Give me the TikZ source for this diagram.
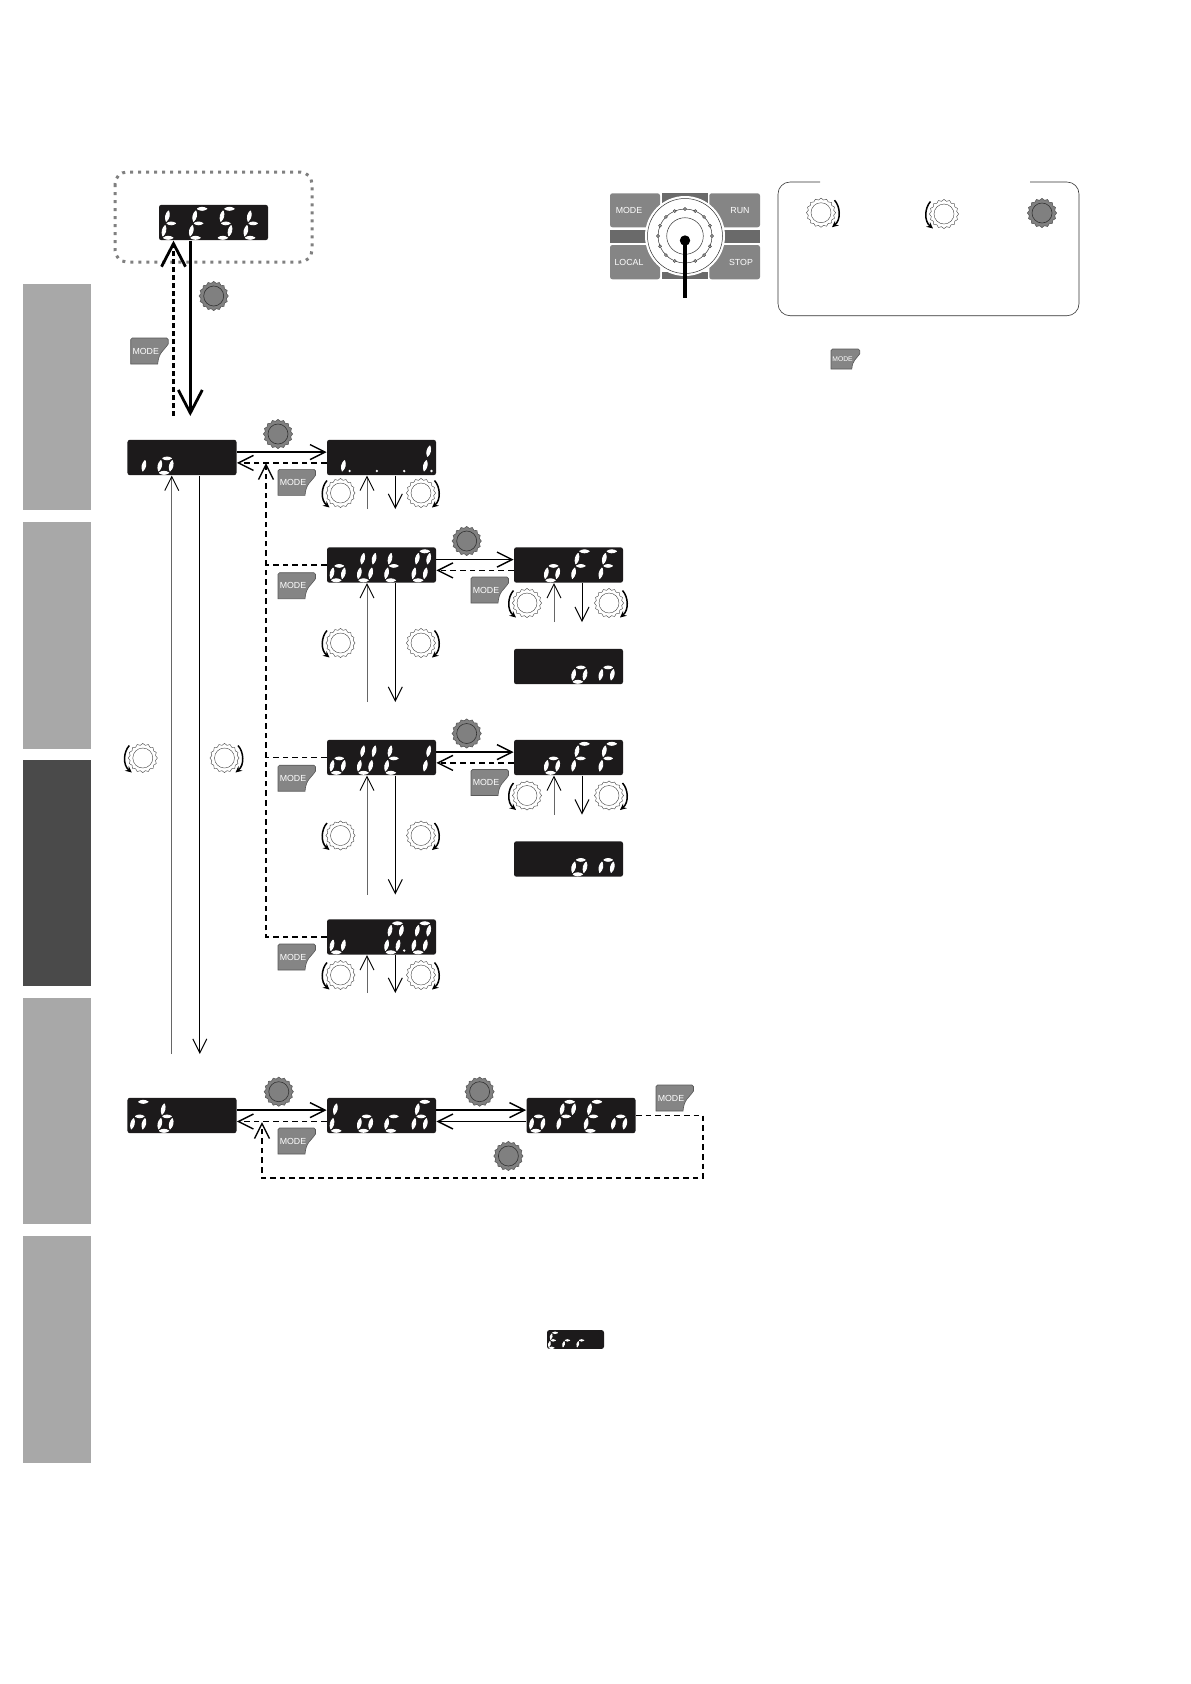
\documentclass[tikz,border=0pt]{standalone}
\usepackage{fontspec}
\setmainfont{Liberation Sans}
\usetikzlibrary{arrows.meta, positioning, shapes.geometric}
\definecolor{keygray}{HTML}{858585}
\definecolor{banddark}{HTML}{6A6A6A}
\definecolor{tabgray}{HTML}{A8A8A8}
\definecolor{tabdark}{HTML}{4A4A4A}
\definecolor{lcdblack}{HTML}{1C1A1B}

\newcommand{\seglens}[4]{\filldraw[white, line width=0.45bp, line join=round] (#1,#2) to[bend left=33] (#3,#4) to[bend left=33] (#1,#2);}
\newcommand{\sega}{\seglens{8}{-29.2}{17.6}{-29.2}}
\newcommand{\segb}{\seglens{18}{-27.2}{15.6}{-16.6}}
\newcommand{\segc}{\seglens{14.6}{-12.6}{12.2}{-2}}
\newcommand{\segd}{\seglens{1.4}{-0.2}{11}{-0.2}}
\newcommand{\sege}{\seglens{3.2}{-12.6}{0.8}{-2}}
\newcommand{\segf}{\seglens{6.6}{-27.2}{4.2}{-16.6}}
\newcommand{\segg}{\seglens{4.8}{-14.6}{13.6}{-14.6}}
\newcommand{\slot}[2]{\begin{scope}[shift={({3.4+27.3*(#1-1)},-2.6)}]\foreach \s in {#2}{\csname seg\s\endcsname}\end{scope}}
\newcommand{\slotdot}[1]{\fill[white] ({23+27.3*(#1-1)},-4.6) circle (1.3);}

\begin{document}
\begin{tikzpicture}[
  x=0.5bp, y=-0.5bp,
  lcd/.style={fill=lcdblack, rounded corners=1.2bp, minimum width=54.5bp, minimum height=17.7bp, inner sep=0pt},
  keytext/.style={text=white, font=\fontsize{4.4bp}{5bp}\selectfont, inner sep=0pt},
  gearbody/.style={star, star points=16, star point ratio=1.13, minimum size=14.6bp, inner sep=0pt},
  turn/.style={line width=0.75bp, -{Stealth[length=3.2bp, width=3bp]}},
  solidline/.style={line width=0.7bp, -{Straight Barb[length=7.5bp, width=7.5bp]}},
  dashline/.style={line width=0.7bp, dash pattern=on 2.8bp off 2bp, -{Straight Barb[length=7.5bp, width=7.5bp]}},
  upline/.style={line width=0.45bp, black!60, -{Straight Barb[length=7bp, width=7bp, color=black]}},
  downline/.style={line width=0.5bp, -{Straight Barb[length=7bp, width=7bp]}},
  heavyline/.style={line width=1.4bp, -{Straight Barb[length=11.5bp, width=12bp]}},
  modekey/.pic={
    \draw[fill=keygray, draw=black!65, line width=0.3bp, rounded corners=0.8bp] (0,26) -- (0,0) -- (37.5,0) [sharp corners] -- (37.5,6) .. controls (33,13) and (28,14) .. (27,26) -- cycle;
    \node[keytext] (-text) at (15,13) {MODE};
  },
  geardark/.pic={
    \node[gearbody, fill=black!50, draw=black!65, line width=0.3bp] (-body) {};
    \draw[black!80, line width=0.3bp] (0,0) circle (10);
  },
  gearlight/.pic={
    \node[gearbody, fill=white, draw=black!75, line width=0.2bp] (-body) {};
    \draw[black!75, line width=0.2bp] (0,0) circle (10);
  },
  gearccw/.pic={
    \pic (-g) {gearlight};
    \draw[turn] (-13.5,-12.5) .. controls (-19.5,-6) and (-20,7) .. (-11,14.5);
  },
  gearcw/.pic={
    \pic (-g) {gearlight};
    \draw[turn] (13.5,-12.5) .. controls (19.5,-6) and (20,7) .. (11,14.5);
  }
]
\useasboundingbox (0,0) rectangle (1191,1684);

\fill[tabgray] (23,283.5) rectangle (91,510);
\fill[tabgray] (23,522) rectangle (91,748.5);
\fill[tabdark] (23,760) rectangle (91,986);
\fill[tabgray] (23,998) rectangle (91,1224);
\fill[tabgray] (23,1236) rectangle (91,1463);

\draw[black!50, line width=1.5bp, dash pattern=on 1.5bp off 2.5bp, rounded corners=6bp] (115,172) rectangle (312,262);

\node[lcd] (testdisp) at (213.5,222.5) {};
\node[lcd] (iodisp) at (182,457.5) {};
\node[lcd] (onedisp) at (381.5,457.5) {};
\node[lcd] (outzero) at (381.5,565) {};
\node[lcd] (offzero) at (568.5,565) {};
\node[lcd] (onzero) at (568.5,666.5) {};
\node[lcd] (outone) at (381.5,757.5) {};
\node[lcd] (offone) at (568.5,757.5) {};
\node[lcd] (onone) at (568.5,859) {};
\node[lcd] (ubdisp) at (381.5,937) {};
\node[lcd] (mbdisp) at (182,1115.5) {};
\node[lcd] (lockdisp) at (381.5,1115.5) {};
\node[lcd] (opendisp) at (581,1115.5) {};
\node[lcd, minimum width=28.5bp, minimum height=9.4bp] (errdisp) at (575.5,1339.5) {};

\begin{scope}[shift={(testdisp.south west)}]
  \slot{1}{f,g,e,d} \slot{2}{a,f,g,e,d} \slot{3}{a,f,g,c,d} \slot{4}{f,g,e,d}
\end{scope}
\begin{scope}[shift={(iodisp.south west)}]
  \slot{1}{c} \slot{2}{g,c,d,e}
\end{scope}
\begin{scope}[shift={(onedisp.south west)}]
  \slot{1}{c} \slot{4}{b,c} \slotdot{1} \slotdot{2} \slotdot{3} \slotdot{4}
\end{scope}
\begin{scope}[shift={(outzero.south west)}]
  \slot{1}{g,c,d,e} \slot{2}{b,c,d,e,f} \slot{3}{f,g,e,d} \slot{4}{a,b,c,d,e,f}
\end{scope}
\begin{scope}[shift={(offzero.south west)}]
  \slot{2}{g,c,d,e} \slot{3}{a,f,g,e} \slot{4}{a,f,g,e}
\end{scope}
\begin{scope}[shift={(onzero.south west)}]
  \slot{3}{g,c,d,e} \slot{4}{g,e,c}
\end{scope}
\begin{scope}[shift={(outone.south west)}]
  \slot{1}{g,c,d,e} \slot{2}{b,c,d,e,f} \slot{3}{f,g,e,d} \slot{4}{b,c}
\end{scope}
\begin{scope}[shift={(offone.south west)}]
  \slot{2}{g,c,d,e} \slot{3}{a,f,g,e} \slot{4}{a,f,g,e}
\end{scope}
\begin{scope}[shift={(onone.south west)}]
  \slot{3}{g,c,d,e} \slot{4}{g,e,c}
\end{scope}
\begin{scope}[shift={(ubdisp.south west)}]
  \slot{1}{c,d,e} \slot{3}{a,b,c,d,e,f} \slot{4}{a,b,c,d,e,f} \slotdot{3}
\end{scope}
\begin{scope}[shift={(mbdisp.south west)}]
  \slot{1}{a,g,e,c} \slot{2}{f,g,c,d,e}
\end{scope}
\begin{scope}[shift={(lockdisp.south west)}]
  \slot{1}{f,e,d} \slot{2}{g,c,d,e} \slot{3}{g,e,d} \slot{4}{a,f,g,e,c}
\end{scope}
\begin{scope}[shift={(opendisp.south west)}]
  \slot{1}{g,c,d,e} \slot{2}{a,b,f,g,e} \slot{3}{a,f,g,e,d} \slot{4}{g,e,c}
\end{scope}
\begin{scope}[shift={(errdisp.south west)}, scale=0.52]
  \slot{1}{a,f,g,e,d} \slot{2}{g,e} \slot{3}{g,e}
\end{scope}

\coordinate (testup) at (173.5,416);
\coordinate (testdown) at (190.3,416);
\draw[heavyline, dash pattern=on 2.5bp off 1.5bp] (testup) -- (testup |- testdisp.south);
\draw[heavyline] (testdown |- testdisp.south) -- (testdown);

\coordinate (ioup) at (171.8,1054);
\coordinate (iodown) at (199.8,1054);
\draw[upline] (ioup) -- (ioup |- iodisp.south);
\draw[downline] (iodown |- iodisp.south) -- (iodown);

\draw[solidline] ([yshift=2.7bp]iodisp.east) -- ([yshift=2.7bp]onedisp.west);
\draw[dashline] ([yshift=-2.7bp]onedisp.west) -- ([yshift=-2.7bp]iodisp.east);

\coordinate (coltop) at (266,463);
\draw[dashline] (ubdisp.west) -| (coltop);
\draw[dashline, -] (outzero.west) -- (outzero.west -| coltop);
\draw[dashline, -] (outone.west) -- (outone.west -| coltop);

\coordinate (oneup) at (367,509);
\coordinate (onedown) at (395.3,509);
\draw[upline] (oneup) -- (oneup |- onedisp.south);
\draw[downline] (onedown |- onedisp.south) -- (onedown);

\coordinate (zeroup) at (367,702);
\coordinate (zerodown) at (395.3,702);
\draw[upline] (zeroup) -- (zeroup |- outzero.south);
\draw[downline] (zerodown |- outzero.south) -- (zerodown);

\draw[solidline] ([yshift=2.7bp]outzero.east) -- ([yshift=2.7bp]offzero.west);
\draw[dashline] ([yshift=-2.7bp]offzero.west) -- ([yshift=-2.7bp]outzero.east);

\coordinate (offzeroup) at (554,622);
\coordinate (offzerodown) at (582,622);
\draw[upline] (offzeroup) -- (offzeroup |- offzero.south);
\draw[downline] (offzerodown |- offzero.south) -- (offzerodown);

\coordinate (oneoutup) at (367,894.5);
\coordinate (oneoutdown) at (395.3,894.5);
\draw[upline] (oneoutup) -- (oneoutup |- outone.south);
\draw[downline] (oneoutdown |- outone.south) -- (oneoutdown);

\draw[solidline] ([yshift=2.7bp]outone.east) -- ([yshift=2.7bp]offone.west);
\draw[dashline] ([yshift=-2.7bp]offone.west) -- ([yshift=-2.7bp]outone.east);

\coordinate (offoneup) at (554,814.5);
\coordinate (offonedown) at (582,814.5);
\draw[upline] (offoneup) -- (offoneup |- offone.south);
\draw[downline] (offonedown |- offone.south) -- (offonedown);

\coordinate (ubup) at (367,993);
\coordinate (ubdown) at (395.3,993);
\draw[upline] (ubup) -- (ubup |- ubdisp.south);
\draw[downline] (ubdown |- ubdisp.south) -- (ubdown);

\draw[solidline] ([yshift=2.7bp]mbdisp.east) -- ([yshift=2.7bp]lockdisp.west);
\draw[dashline] ([yshift=-3bp]lockdisp.west) -- ([yshift=-3bp]mbdisp.east);
\draw[solidline] ([yshift=2.7bp]lockdisp.east) -- ([yshift=2.7bp]opendisp.west);
\draw[solidline] ([yshift=-3bp]opendisp.west) -- ([yshift=-3bp]lockdisp.east);

\coordinate (loopright) at (703,1178);
\coordinate (loopleft) at (262,1178);
\coordinate (looptip) at (262,1122);
\draw[dashline] (opendisp.east) -| (loopright) -- (loopleft) -- (looptip);

\pic (gtest) at (213.7,296) {geardark};
\pic (gio) at (278,434) {geardark};
\pic (gzero) at (466.7,541) {geardark};
\pic (gone) at (466.7,733.5) {geardark};
\pic (gmb) at (278.8,1091.7) {geardark};
\pic (glock) at (479.6,1091.7) {geardark};
\pic (gopen) at (508.4,1156) {geardark};
\pic (gkey) at (1042,213) {geardark};

\pic (gioa) at (142.8,758) {gearccw};
\pic (giob) at (224.5,758) {gearcw};
\pic (gonea) at (340.5,493) {gearccw};
\pic (goneb) at (421,493) {gearcw};
\pic (gzeroa) at (340.5,643) {gearccw};
\pic (gzerob) at (421,643) {gearcw};
\pic (goffa) at (527,603) {gearccw};
\pic (goffb) at (609,603) {gearcw};
\pic (gouta) at (340.5,835.5) {gearccw};
\pic (goutb) at (421,835.5) {gearcw};
\pic (goffc) at (527,795.5) {gearccw};
\pic (goffd) at (609,795.5) {gearcw};
\pic (guba) at (340.5,975) {gearccw};
\pic (gubb) at (421,975) {gearcw};
\pic (gkeya) at (821,212.7) {gearcw};
\pic (gkeyb) at (944,214) {gearccw};

\pic (mtest) at (130.7,338) {modekey};
\pic (mone) at (278,469.3) {modekey};
\pic (mzero) at (278,572.7) {modekey};
\pic (moff) at (471,577) {modekey};
\pic (mout) at (278,765.2) {modekey};
\pic (moffb) at (471,769.5) {modekey};
\pic (mub) at (278,944) {modekey};
\pic (mlock) at (278,1128) {modekey};
\pic (mopen) at (656,1085) {modekey};
\pic[scale=0.77, transform shape] (mnote) at (831,349) {modekey};

\fill[keygray, rounded corners=1.2bp] (610,193.3) rectangle (660,227.3);
\fill[keygray, rounded corners=1.2bp] (709.3,193.3) rectangle (760,227.3);
\fill[keygray, rounded corners=1.2bp] (610,245) rectangle (660,279.3);
\fill[keygray, rounded corners=1.2bp] (709.3,245) rectangle (760,279.3);
\fill[banddark] (610,230) rectangle (760,242.7);
\fill[banddark] (661.7,193.3) rectangle (708.3,203);
\fill[banddark] (661.7,271.7) rectangle (708.3,279.3);
\fill[white] (685,236) circle (40);
\draw[black!80, line width=0.25bp] (685,236) circle (37.5);
\draw[black!80, line width=0.25bp] (685,236) circle (27);
\draw[black!80, line width=0.25bp] (685,236) circle (18.3);
\foreach \a in {0,22.5,...,337.5}
  \filldraw[fill=black!40, draw=black!80, line width=0.15bp] (685,236) ++(\a:27) circle (1.6);
\node[keytext] (keymode) at (629,210.7) {MODE};
\node[keytext] (keyrun) at (740,210.7) {RUN};
\node[keytext] (keylocal) at (629,262.3) {LOCAL};
\node[keytext] (keystop) at (741,262.3) {STOP};
\coordinate (stemtop) at (685,240.5);
\coordinate (stemend) at (685,298);
\draw[black, line width=1.8bp] (stemtop) -- (stemend);
\fill[black] (stemtop) circle (5.2);

\draw[black!80, line width=0.3bp, rounded corners=6bp] (820,182) -- (778,182) -- (778,315.7) -- (1079,315.7) -- (1079,182) -- (1030,182);
\end{tikzpicture}
\end{document}
